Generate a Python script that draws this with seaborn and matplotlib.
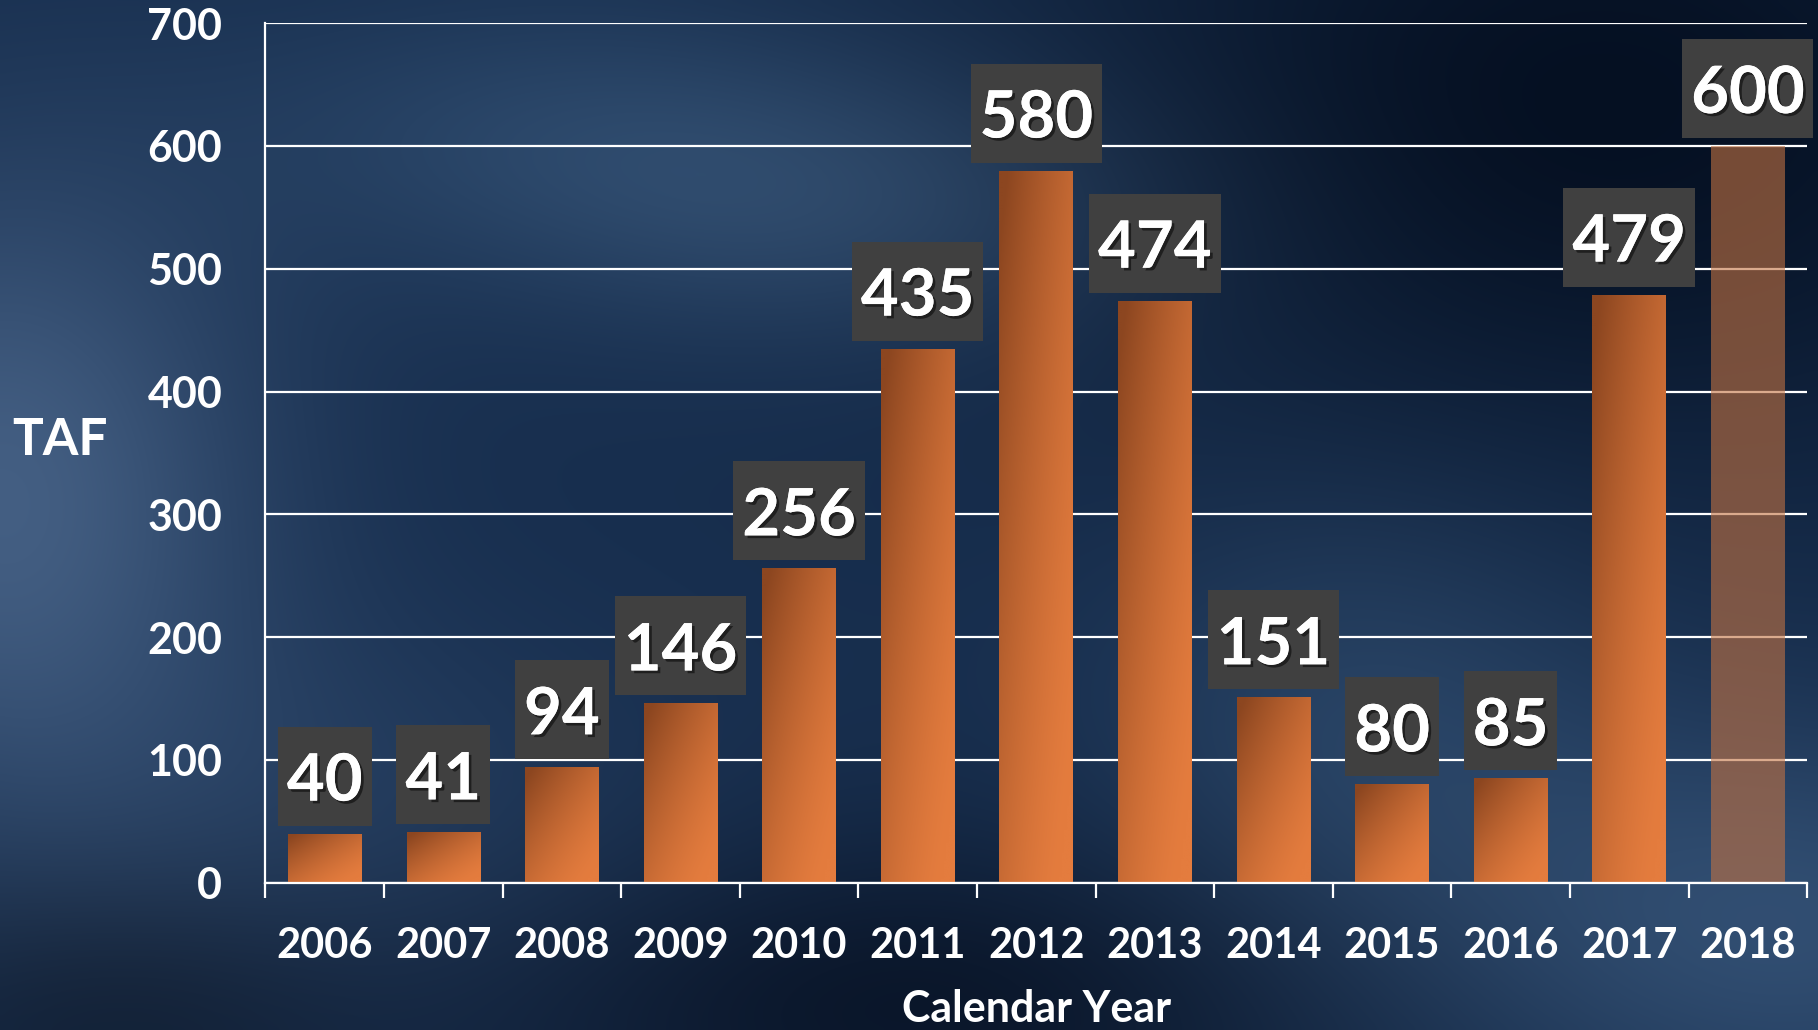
import numpy as np
import pandas as pd
import matplotlib
matplotlib.use("Agg")
import matplotlib.pyplot as plt
import matplotlib.patheffects as pe
from matplotlib.patches import Rectangle
from matplotlib.transforms import IdentityTransform
from matplotlib.ticker import FixedLocator
import seaborn as sns

# chart data
years = ["2006", "2007", "2008", "2009", "2010", "2011", "2012",
         "2013", "2014", "2015", "2016", "2017", "2018"]
taf = [40, 41, 94, 146, 256, 435, 580, 474, 151, 80, 85, 479, 600]
y_ticks = [0, 100, 200, 300, 400, 500, 600, 700]

df = pd.DataFrame({"Year": years, "TAF": taf})

sns.set_theme(style="white")
plt.rcParams["font.family"] = ["Lato", "DejaVu Sans"]
plt.rcParams["font.weight"] = "bold"

fig = plt.figure(figsize=(18.18, 10.30), dpi=100)

#--> stormy blue background <--#
bg_ax = fig.add_axes([0, 0, 1, 1], zorder=-1)
H, W = 206, 364
yy, xx = np.mgrid[0:1:H * 1j, 0:1:W * 1j]
img = np.zeros((H, W, 3)) + np.array([23, 46, 78], dtype=float)
blobs = [
    # (cx, cy, sx, sy, rgb delta)
    (0.00, 0.48, 0.10, 0.22, (44, 48, 52)),
    (0.30, 0.12, 0.14, 0.10, (14, 18, 20)),
    (0.47, 0.20, 0.14, 0.10, (20, 24, 26)),
    (0.88, 0.10, 0.22, 0.25, (-18, -30, -44)),
    (0.50, 0.98, 0.18, 0.12, (-13, -24, -36)),
    (0.98, 0.90, 0.14, 0.14, (26, 32, 36)),
    (0.75, 0.70, 0.10, 0.16, (16, 20, 22)),
    (0.06, 0.98, 0.10, 0.10, (-8, -16, -26)),
    (0.18, 0.80, 0.14, 0.14, (12, 14, 16)),
]
for cx, cy, sx, sy, d in blobs:
    g = np.exp(-((xx - cx) ** 2 / (2 * sx ** 2) + (yy - cy) ** 2 / (2 * sy ** 2)))
    img += g[..., None] * np.array(d, dtype=float)
img = np.clip(img, 0, 255) / 255.0
bg_ax.imshow(img, aspect="auto", extent=[0, 1, 0, 1], interpolation="bicubic")
bg_ax.set_axis_off()

#--> bar chart <--#
ax = fig.add_axes([0.146, 0.143, 0.848, 0.8345])
ax.set_facecolor("none")
sns.barplot(data=df, x="Year", y="TAF", color="#d9753a", width=0.62,
            saturation=1, linewidth=0, edgecolor="none", ax=ax, zorder=2)

ax.set_ylim(0, 700)
ax.set_xlim(-0.5, len(years) - 0.5)
ax.set_yticks(y_ticks)
ax.yaxis.grid(True, color="white", lw=1.6)
ax.set_axisbelow(True)

for s in ["top", "right"]:
    ax.spines[s].set_visible(False)
for s in ["left", "bottom"]:
    ax.spines[s].set_color("white")
    ax.spines[s].set_linewidth(1.6)

ax.tick_params(axis="y", colors="white", length=9, width=1.6, pad=22,
               labelsize=31)
ax.tick_params(axis="x", which="major", length=0, pad=32, labelsize=30,
               labelcolor="white")
ax.xaxis.set_minor_locator(FixedLocator(np.arange(-0.5, len(years), 1.0)))
ax.tick_params(axis="x", which="minor", bottom=True, length=11, width=1.6,
               color="white")
for lab in ax.get_xticklabels() + ax.get_yticklabels():
    lab.set_fontweight("bold")

ax.set_xlabel("Calendar Year", color="white", fontsize=31, fontweight="bold")
ax.xaxis.set_label_coords(0.5, -0.147)
ax.xaxis.label.set_va("center")
ax.set_ylabel("")
fig.text(0.007, 0.572, "TAF", color="white", fontsize=37, fontweight="bold",
         ha="left", va="center")

# gradient fill on the bars, last one translucent
dark = np.array([140, 70, 32]) / 255.0
light = np.array([228, 124, 62]) / 255.0
gy, gx = np.mgrid[1:0:60j, 0:1:30j]
t = np.clip(0.55 * (1 - gx) + 0.6 * gy - 0.1, 0, 1) ** 1.4
grad = light + (dark - light) * t[..., None]

bars = ax.patches
for i, bar in enumerate(bars):
    x0, y0 = bar.get_x(), bar.get_y()
    w, h = bar.get_width(), bar.get_height()
    if i == len(bars) - 1:
        bar.set_facecolor("#c27242")
        bar.set_alpha(0.6)
        continue
    im = ax.imshow(grad, extent=[x0, x0 + w, y0, y0 + h], aspect="auto",
                   zorder=2.1, interpolation="bilinear")
    im.set_clip_path(bar)

ax.set_xlim(-0.5, len(years) - 0.5)
ax.set_ylim(0, 700)

# value labels in dark boxes (box 99 px tall, 8 px above bar)
gap_px, box_h, base_px, hpad = 8, 99, 25, 9
labels = []
for i, v in enumerate(taf):
    txt = ax.annotate(str(v), xy=(i, v),
                      xytext=(0, (gap_px + base_px) * 72 / 100),
                      textcoords="offset points", ha="center", va="baseline",
                      fontsize=47, fontweight="bold", color="white", zorder=6,
                      annotation_clip=False,
                      path_effects=[pe.withSimplePatchShadow(
                          offset=(2, -2), shadow_rgbFace="black", alpha=0.5),
                          pe.Normal()])
    labels.append(txt)

fig.canvas.draw()
renderer = fig.canvas.get_renderer()
for i, (txt, v) in enumerate(zip(labels, taf)):
    ext = txt.get_window_extent(renderer)
    xc, ytop = ax.transData.transform((i, v))
    bw = ext.width + 2 * hpad
    rect = Rectangle((xc - bw / 2, ytop + gap_px), bw, box_h,
                     transform=IdentityTransform(), facecolor="#404040",
                     edgecolor="none", zorder=5, clip_on=False)
    ax.add_patch(rect)

fig.savefig("out.png", dpi=100)
